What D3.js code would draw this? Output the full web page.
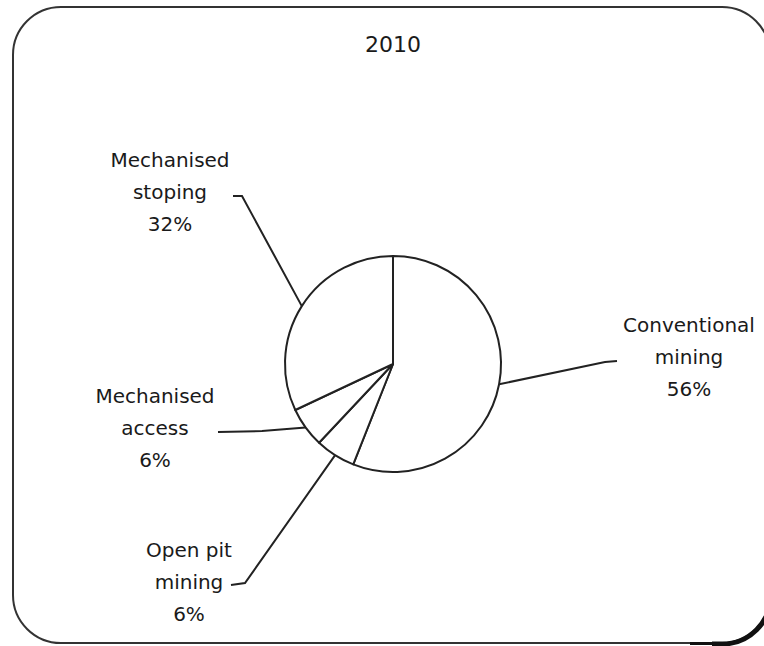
<!DOCTYPE html>
<html>
<head>
<meta charset="utf-8">
<style>
body{ margin:0; background:#fff; }
svg text{ font-family: "DejaVu Sans", sans-serif; fill:#1a1a1a; }
</style>
</head>
<body>
<svg id="chart"></svg>
<script src="https://d3js.org/d3.v7.min.js"></script>
<script>
var title = "2010"
var categories = ["Conventional mining", "Open pit mining", "Mechanised access", "Mechanised stoping"]
var shares = [56, 6, 6, 32]

// label placement: elbow points and text block centre, per slice
var layout = [
    { elbow: [[605, 362], [617, 361]], tx: 689, ty: 332, lines: ["Conventional", "mining"] },
    { elbow: [[245, 583], [231, 585]], tx: 189, ty: 557, lines: ["Open pit", "mining"] },
    { elbow: [[262, 431], [218, 432]], tx: 155, ty: 403, lines: ["Mechanised", "access"] },
    { elbow: [[242, 196], [233, 196]], tx: 170, ty: 167, lines: ["Mechanised", "stoping"] }
]

var width = 764, height = 646
var cx = 393, cy = 364, r = 108

var svg = d3.select("#chart")
    .attr("width", width)
    .attr("height", height)

// frame
svg.append("rect")
    .attr("x", 13).attr("y", 7).attr("width", 757).attr("height", 636)
    .attr("rx", 48).attr("ry", 48)
    .attr("fill", "none").attr("stroke", "#333").attr("stroke-width", 2)
// heavier bottom-right corner
svg.append("path")
    .attr("d", "M 712 644 L 722 644 A 49 49 0 0 0 771 595")
    .attr("fill", "none").attr("stroke", "#111").attr("stroke-width", 5)
svg.append("path")
    .attr("d", "M 690 643.5 L 714 643.5")
    .attr("fill", "none").attr("stroke", "#111").attr("stroke-width", 3)

svg.append("text")
    .attr("x", cx).attr("y", 52)
    .attr("text-anchor", "middle")
    .style("font-size", "22px")
    .text(title)

var pie = d3.pie().sort(null).value(function(d){ return d; })
var arcs = pie(shares)
var arc = d3.arc().innerRadius(0).outerRadius(r)

var g = svg.append("g").attr("transform", "translate(" + cx + "," + cy + ")")
g.selectAll("path")
    .data(arcs)
    .enter()
    .append("path")
    .attr("d", arc)
    .attr("fill", "#fff")
    .attr("stroke", "#222")
    .attr("stroke-width", 2)
    .attr("stroke-linejoin", "round")

var line = d3.line()
arcs.forEach(function(a, i){
    var mid = (a.startAngle + a.endAngle) / 2
    var start = [cx + r * Math.sin(mid), cy - r * Math.cos(mid)]
    var pts = [start].concat(layout[i].elbow)
    svg.append("path")
        .attr("d", line(pts))
        .attr("fill", "none")
        .attr("stroke", "#222")
        .attr("stroke-width", 2)

    var t = svg.append("text")
        .attr("text-anchor", "middle")
        .style("font-size", "20px")
    var lines = layout[i].lines.concat([shares[i] + "%"])
    lines.forEach(function(s, j){
        t.append("tspan")
            .attr("x", layout[i].tx)
            .attr("y", layout[i].ty + j * 32)
            .text(s)
    })
})
</script>
</body>
</html>
